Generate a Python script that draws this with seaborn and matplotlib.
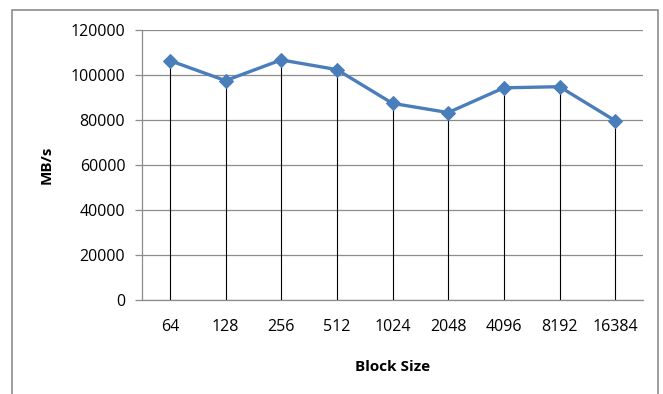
import matplotlib
matplotlib.use("Agg")
import matplotlib.pyplot as plt
import seaborn as sns
import pandas as pd
from matplotlib.patches import Rectangle

block_sizes = ["64", "128", "256", "512", "1024", "2048", "4096", "8192", "16384"]
mbps = [106400, 97500, 106700, 102400, 87400, 83300, 94300, 94800, 79700]
y_ticks = [0, 20000, 40000, 60000, 80000, 100000, 120000]

sns.set_theme(style="white")
plt.rcParams["font.family"] = ["Open Sans", "DejaVu Sans"]

df = pd.DataFrame({"Block Size": block_sizes, "MB/s": mbps})

fig = plt.figure(figsize=(6.63, 3.94), dpi=100)
ax = fig.add_axes([142/663, 1 - 300/394, (643 - 142)/663, (300 - 30)/394])

ax.yaxis.grid(True, color="#8c8c8c", linewidth=0.9)
ax.set_axisbelow(True)

xpos = list(range(len(block_sizes)))
ax.vlines(xpos, 0, df["MB/s"], color="black", linewidth=0.8, zorder=2)

sns.lineplot(data=df, x="Block Size", y="MB/s", sort=False, ax=ax,
             color="#4a7ebb", linewidth=2.4, marker="D", markersize=7,
             markeredgecolor="#4a7ebb", zorder=3)

ax.set_xlim(-0.5, len(block_sizes) - 0.5)
ax.set_ylim(0, 120000)
ax.set_yticks(y_ticks)
ax.set_yticklabels([str(v) for v in y_ticks])

for s in ["top", "right"]:
    ax.spines[s].set_visible(False)
for s in ["left", "bottom"]:
    ax.spines[s].set_color("#8c8c8c")
    ax.spines[s].set_linewidth(0.9)

ax.tick_params(axis="y", which="both", left=True, length=5, width=0.9,
               color="#8c8c8c", pad=7, labelsize=11.5, labelcolor="black")
ax.tick_params(axis="x", which="both", bottom=False, length=0, pad=14,
               labelsize=11.5, labelcolor="black")

ax.set_xlabel("Block Size", fontsize=11, fontweight="bold", labelpad=17.5, color="black")
ax.set_ylabel("MB/s", fontsize=11, fontweight="bold", labelpad=12.5, color="black")

fig.patches.append(Rectangle((12/663, -0.1), (658 - 12)/663, 1.1 - 10/394,
                             transform=fig.transFigure, fill=False,
                             edgecolor="#8c8c8c", linewidth=1.2))

fig.savefig("out.png", dpi=100)
